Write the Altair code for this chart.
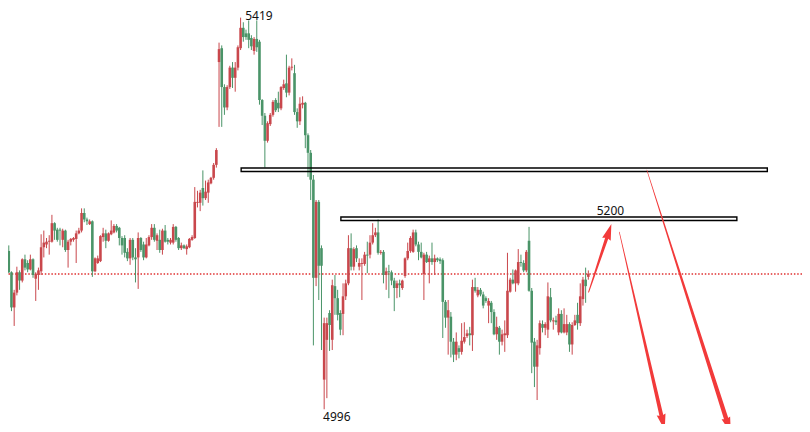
import altair as alt
import pandas as pd

# Candles as (open, high, low, close), left to right
early_range = [
    (5166, 5168, 5165, 5167), (5167, 5173, 5143, 5144), (5144, 5145, 5102, 5106), (5106, 5125, 5086, 5122),
    (5122, 5150, 5119, 5144), (5144, 5146, 5125, 5135), (5135, 5159, 5133, 5158), (5158, 5163, 5146, 5149),
    (5154, 5157, 5144, 5147), (5147, 5163, 5146, 5158), (5158, 5159, 5138, 5141), (5137, 5144, 5113, 5142),
    (5141, 5149, 5125, 5146), (5145, 5185, 5141, 5171), (5171, 5189, 5160, 5176), (5174, 5181, 5170, 5177),
    (5177, 5184, 5163, 5178), (5177, 5206, 5176, 5197), (5197, 5198, 5179, 5189), (5190, 5192, 5177, 5179),
    (5190, 5192, 5173, 5189), (5179, 5191, 5171, 5189), (5189, 5190, 5166, 5168), (5168, 5179, 5149, 5177),
    (5177, 5181, 5173, 5180), (5179, 5182, 5177, 5181), (5180, 5189, 5154, 5186), (5186, 5192, 5185, 5189),
    (5189, 5213, 5187, 5208), (5208, 5213, 5198, 5201), (5201, 5203, 5195, 5199), (5196, 5201, 5195, 5199),
    (5199, 5200, 5139, 5145), (5145, 5160, 5144, 5159), (5154, 5162, 5153, 5159), (5156, 5184, 5155, 5183),
    (5182, 5192, 5177, 5186), (5186, 5190, 5170, 5178), (5178, 5187, 5177, 5186), (5185, 5200, 5184, 5189),
    (5187, 5196, 5186, 5194), (5194, 5196, 5187, 5189), (5192, 5193, 5173, 5181), (5181, 5183, 5163, 5173),
]
breakout = [
    (5181, 5184, 5160, 5165), (5166, 5170, 5156, 5159), (5159, 5181, 5152, 5179), (5179, 5181, 5157, 5160),
    (5160, 5170, 5133, 5158), (5160, 5187, 5126, 5181), (5181, 5182, 5166, 5168), (5174, 5177, 5157, 5160),
    (5160, 5181, 5159, 5174), (5173, 5184, 5172, 5182), (5182, 5196, 5179, 5192), (5192, 5196, 5177, 5179),
    (5178, 5186, 5168, 5184), (5179, 5190, 5165, 5168), (5168, 5191, 5163, 5189), (5189, 5195, 5176, 5177),
    (5179, 5181, 5174, 5177), (5176, 5181, 5174, 5179), (5176, 5196, 5174, 5193), (5193, 5194, 5177, 5179),
    (5181, 5182, 5168, 5170), (5170, 5176, 5168, 5173), (5173, 5174, 5169, 5170), (5169, 5174, 5163, 5172),
    (5171, 5181, 5170, 5180), (5179, 5184, 5178, 5182), (5181, 5236, 5180, 5220), (5219, 5232, 5214, 5220),
    (5219, 5233, 5210, 5230), (5235, 5254, 5216, 5224), (5224, 5243, 5222, 5231), (5230, 5244, 5219, 5241),
    (5240, 5247, 5239, 5246), (5246, 5262, 5244, 5260), (5260, 5278, 5257, 5276),
]
spike_top = [
    (5371, 5392, 5301, 5385), (5386, 5389, 5301, 5344), (5344, 5347, 5314, 5322), (5322, 5346, 5319, 5344),
    (5344, 5367, 5342, 5365), (5365, 5371, 5343, 5354), (5354, 5371, 5339, 5365), (5365, 5389, 5362, 5387),
    (5386, 5419, 5384, 5408), (5408, 5414, 5393, 5398), (5402, 5406, 5395, 5398), (5402, 5416, 5386, 5395),
    (5397, 5400, 5384, 5388), (5383, 5398, 5379, 5396), (5396, 5416, 5382, 5387), (5393, 5395, 5325, 5330),
    (5330, 5331, 5303, 5313), (5313, 5316, 5257, 5286), (5286, 5307, 5284, 5305), (5304, 5316, 5302, 5314),
    (5314, 5330, 5312, 5328), (5330, 5332, 5317, 5319), (5327, 5339, 5317, 5321), (5321, 5345, 5319, 5344),
    (5343, 5352, 5341, 5347), (5348, 5379, 5333, 5338), (5338, 5367, 5335, 5365), (5365, 5375, 5362, 5366),
    (5359, 5368, 5314, 5317), (5317, 5321, 5300, 5307), (5307, 5333, 5303, 5326), (5325, 5334, 5321, 5327),
    (5327, 5328, 5278, 5292), (5292, 5294, 5247, 5273), (5273, 5276, 5222, 5244), (5244, 5249, 5065, 5138),
    (5138, 5222, 5129, 5220), (5220, 5222, 5114, 5151), (5170, 5173, 5060, 5151), (5028, 5095, 4996, 5089),
    (5071, 5095, 5008, 5089), (5100, 5103, 5059, 5087), (5071, 5136, 5060, 5130), (5129, 5141, 5098, 5116),
    (5116, 5125, 5092, 5098), (5100, 5103, 5076, 5082), (5099, 5132, 5076, 5118), (5118, 5136, 5114, 5132),
    (5132, 5184, 5130, 5170), (5170, 5186, 5146, 5150), (5150, 5171, 5146, 5169),
]
rebound = [
    (5170, 5173, 5155, 5159), (5150, 5159, 5146, 5154), (5153, 5159, 5114, 5154), (5153, 5166, 5151, 5163),
    (5163, 5177, 5143, 5162), (5163, 5184, 5159, 5176), (5176, 5197, 5174, 5184), (5184, 5192, 5182, 5187),
    (5187, 5201, 5163, 5165), (5165, 5168, 5163, 5166), (5166, 5168, 5132, 5141), (5141, 5149, 5125, 5145),
    (5145, 5152, 5116, 5144), (5144, 5146, 5130, 5135), (5135, 5138, 5102, 5127), (5127, 5135, 5116, 5132),
    (5132, 5136, 5117, 5130), (5127, 5136, 5125, 5135), (5140, 5160, 5138, 5159), (5159, 5176, 5157, 5167),
    (5167, 5183, 5165, 5181), (5166, 5190, 5165, 5187), (5187, 5190, 5172, 5174), (5174, 5177, 5157, 5166),
    (5166, 5176, 5159, 5160), (5142, 5165, 5114, 5163), (5163, 5166, 5154, 5155), (5155, 5162, 5132, 5159),
    (5159, 5176, 5152, 5155), (5155, 5163, 5141, 5159), (5159, 5160, 5155, 5157), (5158, 5160, 5153, 5156),
    (5157, 5159, 5073, 5112), (5112, 5114, 5084, 5095), (5095, 5114, 5055, 5103), (5096, 5101, 5052, 5069),
    (5069, 5073, 5047, 5055), (5055, 5079, 5049, 5069), (5062, 5065, 5051, 5058), (5058, 5089, 5055, 5070),
    (5069, 5090, 5067, 5074), (5075, 5082, 5073, 5078), (5078, 5085, 5065, 5076), (5076, 5136, 5059, 5128),
    (5128, 5138, 5122, 5124), (5119, 5128, 5117, 5125),
]
late = [
    (5125, 5127, 5118, 5120), (5120, 5123, 5105, 5108), (5116, 5118, 5111, 5113), (5108, 5116, 5089, 5113),
    (5111, 5113, 5089, 5101), (5101, 5104, 5076, 5077), (5077, 5096, 5071, 5085), (5084, 5086, 5055, 5069),
    (5069, 5082, 5065, 5077), (5076, 5092, 5058, 5078), (5076, 5165, 5073, 5124), (5123, 5138, 5122, 5136),
    (5136, 5147, 5131, 5132), (5132, 5147, 5123, 5146), (5132, 5169, 5130, 5155), (5155, 5163, 5150, 5154),
    (5154, 5157, 5144, 5146), (5146, 5168, 5144, 5166), (5178, 5193, 5123, 5124), (5124, 5127, 5035, 5068),
    (5069, 5073, 5020, 5042), (5042, 5071, 5006, 5065), (5062, 5092, 5055, 5089), (5088, 5092, 5079, 5084),
    (5084, 5090, 5076, 5088), (5082, 5133, 5073, 5118), (5117, 5127, 5090, 5092), (5091, 5095, 5082, 5092),
    (5092, 5097, 5087, 5090), (5079, 5105, 5076, 5099), (5099, 5103, 5078, 5079), (5079, 5105, 5078, 5088),
    (5079, 5098, 5076, 5088), (5088, 5090, 5058, 5066), (5066, 5090, 5055, 5087), (5087, 5098, 5086, 5092),
    (5098, 5111, 5082, 5089), (5089, 5132, 5086, 5118), (5115, 5139, 5108, 5136), (5136, 5149, 5111, 5129),
    (5139, 5146, 5136, 5142),
]

# Horizontal levels (bar index from / to, price top / bottom)
level_from = [87.2, 124.2]
level_to = [282.4, 271.1]
level_top = [5256.6, 5203.6]
level_bottom = [5252.8, 5199.9]
bid_price = [5142.1]

# Price labels
label_text = ["5419", "4996", "5200"]
label_bar = [93.8, 122.7, 224.2]
label_price = [5426.0, 4987.6, 5210.1]
label_baseline = ["top", "middle", "middle"]

# Arrows: shaft from tail to head, with width growing toward the head
arrow_id = ["up", "up", "down1", "down1", "down2", "down2"]
arrow_bar = [216.1, 223.4, 227.5, 243.5, 237.7, 267.7]
arrow_price = [5122.6, 5185.8, 5187.4, 4984.1, 5254.4, 4980.6]
arrow_width = [1.0, 3.5, 0.6, 4.0, 0.6, 4.5]
head_bar = [223.4, 243.5, 267.7]
head_price = [5185.8, 4984.1, 4980.6]
head_angle = [18, 167, 162]

candles = early_range + breakout + spike_top + rebound + late
df = pd.DataFrame(candles, columns=["open", "high", "low", "close"])
df["bar"] = range(len(df))
df["dir"] = ["up" if c >= o else "down" for o, c in zip(df["open"], df["close"])]

xs = alt.Scale(domain=[2.564, 293.41], nice=False, zero=False)
ys = alt.Scale(domain=[4980.1, 5429.4], nice=False, zero=False)
X = lambda f: alt.X(f, scale=xs, axis=None)
Y = lambda f: alt.Y(f, scale=ys, axis=None)

base = alt.Chart(df)
wicks = base.mark_rule(strokeWidth=1, clip=True).encode(
    x=X("bar:Q"), y=Y("low:Q"), y2="high:Q",
    color=alt.Color("dir:N", scale=alt.Scale(domain=["up", "down"], range=["#C9474C", "#4A9468"]), legend=None),
)
bodies = base.mark_bar(size=2.6, clip=True).encode(
    x=X("bar:Q"), y=Y("open:Q"), y2="close:Q",
    color=alt.Color("dir:N", scale=alt.Scale(domain=["up", "down"], range=["#E8484C", "#3F9A80"]), legend=None),
)

bid = alt.Chart(pd.DataFrame({"price": bid_price})).mark_rule(
    color="#E03030", strokeDash=[1.5, 1.8], strokeWidth=1.3
).encode(y=Y("price:Q"))

levels = alt.Chart(pd.DataFrame({
    "x1": level_from, "x2": level_to, "top": level_top, "bot": level_bottom
})).mark_rect(fillOpacity=0, stroke="#000000", strokeWidth=1.4).encode(
    x=X("x1:Q"), x2="x2:Q", y=Y("top:Q"), y2="bot:Q"
)

arrows = alt.Chart(pd.DataFrame({
    "arrow": arrow_id, "bar": arrow_bar, "price": arrow_price, "w": arrow_width
})).mark_trail(color="#F23A3A").encode(
    x=X("bar:Q"), y=Y("price:Q"), detail="arrow:N", size=alt.Size("w:Q", scale=None)
)
heads = alt.Chart(pd.DataFrame({
    "bar": head_bar, "price": head_price, "ang": head_angle
})).mark_point(
    shape="M0,-1L0.45,0.6L0,0.45L-0.45,0.6Z", filled=True, opacity=1, color="#F23A3A", size=400, strokeWidth=0
).encode(x=X("bar:Q"), y=Y("price:Q"), angle=alt.Angle("ang:Q", scale=None))

labels = alt.Chart(pd.DataFrame({
    "t": label_text, "bar": label_bar, "price": label_price, "bl": label_baseline
}))
label_marks = alt.layer(*[
    labels.transform_filter(alt.datum.bl == b).mark_text(
        font="Noto Sans", fontSize=12, color="#111111", align="center", baseline=b
    ).encode(x=X("bar:Q"), y=Y("price:Q"), text="t:N")
    for b in ["top", "middle"]
])

chart = alt.layer(bid, wicks, bodies, levels, arrows, heads, label_marks).properties(
    width=794, height=416, padding=0, autosize=alt.AutoSizeParams(type="none"),
    background="#ffffff"
).configure_view(stroke=None)

chart.save("out.html", embed_options={"renderer": "svg", "actions": False})
